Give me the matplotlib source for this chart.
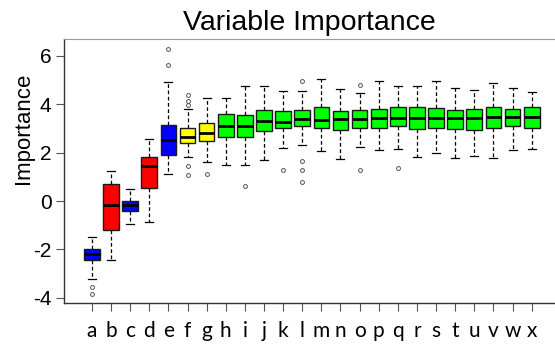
import matplotlib
matplotlib.use("Agg")
import matplotlib.pyplot as plt

# variable names
labels = list("abcdefghijklmnopqrstuvwx")

# box statistics
whislo = [-3.20, -2.44, -0.94, -0.87, 1.11, 1.82, 1.60, 1.48, 1.49, 1.68, 2.18, 2.30,
          2.08, 1.74, 2.23, 2.11, 2.14, 1.80, 1.97, 1.78, 1.85, 1.78, 2.11, 2.15]
q1 = [-2.44, -1.20, -0.41, 0.55, 1.89, 2.38, 2.47, 2.63, 2.63, 2.88, 3.02, 3.09,
      3.02, 2.92, 3.02, 3.02, 3.11, 2.99, 3.03, 2.96, 2.95, 3.02, 3.10, 3.03]
med = [-2.19, -0.17, -0.15, 1.43, 2.52, 2.66, 2.80, 3.10, 3.09, 3.29, 3.28, 3.38,
       3.36, 3.38, 3.39, 3.42, 3.42, 3.42, 3.44, 3.42, 3.42, 3.47, 3.46, 3.47]
q3 = [-1.97, 0.69, 0.00, 1.80, 3.15, 3.02, 3.21, 3.60, 3.57, 3.75, 3.72, 3.75,
      3.88, 3.71, 3.75, 3.80, 3.87, 3.87, 3.86, 3.77, 3.79, 3.88, 3.80, 3.88]
whishi = [-1.50, 1.23, 0.51, 2.56, 4.90, 3.80, 4.26, 4.26, 4.75, 4.75, 4.56, 4.53,
          5.04, 4.64, 4.48, 4.97, 4.75, 4.75, 4.97, 4.66, 4.57, 4.86, 4.66, 4.49]
outliers = [[-3.54, -3.84], [], [], [], [6.27, 5.61],
            [4.37, 4.15, 3.98, 1.43, 1.07], [1.12], [], [0.62], [], [1.27],
            [4.97, 1.64, 1.27, 0.77], [], [], [4.81, 1.27], [], [1.36],
            [], [], [], [], [], [], []]

# decision per variable: shadow / rejected / tentative / confirmed
decision = ["shadow", "rejected", "shadow", "rejected", "shadow", "tentative", "tentative"] + ["confirmed"] * 17
palette = {"shadow": "#0000ff", "rejected": "#ff0000", "tentative": "#ffff00", "confirmed": "#00ff00"}

stats = []
for i in range(len(labels)):
    stats.append({"whislo": whislo[i], "q1": q1[i], "med": med[i], "q3": q3[i],
                  "whishi": whishi[i], "fliers": outliers[i], "label": labels[i]})

fig = plt.figure(figsize=(5.55, 3.45), dpi=100)
ax = fig.add_axes([64 / 555, 42 / 345, 600 / 555, 264 / 345])

pos = list(range(1, len(labels) + 1))
bp = ax.bxp(
    stats,
    positions=pos,
    widths=0.82,
    capwidths=0.42,
    patch_artist=True,
    boxprops=dict(edgecolor="#1a1a1a", linewidth=1.0),
    medianprops=dict(color="black", linewidth=2.0),
    whiskerprops=dict(color="black", linewidth=0.9, linestyle=(0, (3, 2))),
    capprops=dict(color="black", linewidth=0.9),
    flierprops=dict(marker="o", markersize=2.8, markerfacecolor="none",
                    markeredgecolor="#555555", markeredgewidth=0.7),
)
for patch, d in zip(bp["boxes"], decision):
    patch.set_facecolor(palette[d])

# one category step is about 19.1 px; the frame runs past the right edge
ax.set_xlim(-0.46, -0.46 + 600 / 19.12)
ax.set_ylim(-4.21, 6.69)

ax.set_yticks([-4, -2, 0, 2, 4, 6])
ax.set_yticklabels(["-4", "-2", "0", "2", "4", "6"], family="Liberation Sans", fontsize=15)
ax.set_xticks(pos)
ax.set_xticklabels(labels, family="Lato", fontsize=15)
ax.tick_params(axis="y", length=6, width=0.8, color="#555555", pad=3)
ax.tick_params(axis="x", length=6, width=0.8, color="#555555", pad=7)

for side in ["left", "bottom"]:
    ax.spines[side].set_color("#333333")
    ax.spines[side].set_linewidth(1.0)
ax.spines["top"].set_color("#999999")
ax.spines["right"].set_visible(False)

fig.text(309 / 555, 1 - 30 / 345, "Variable Importance", family="Liberation Sans",
         fontsize=20.5, ha="center", va="baseline")
fig.text(23 / 555, 1 - 128 / 345, "Importance", family="Liberation Sans",
         fontsize=16, rotation=90, ha="center", va="center")

fig.savefig("out.png", dpi=100)
